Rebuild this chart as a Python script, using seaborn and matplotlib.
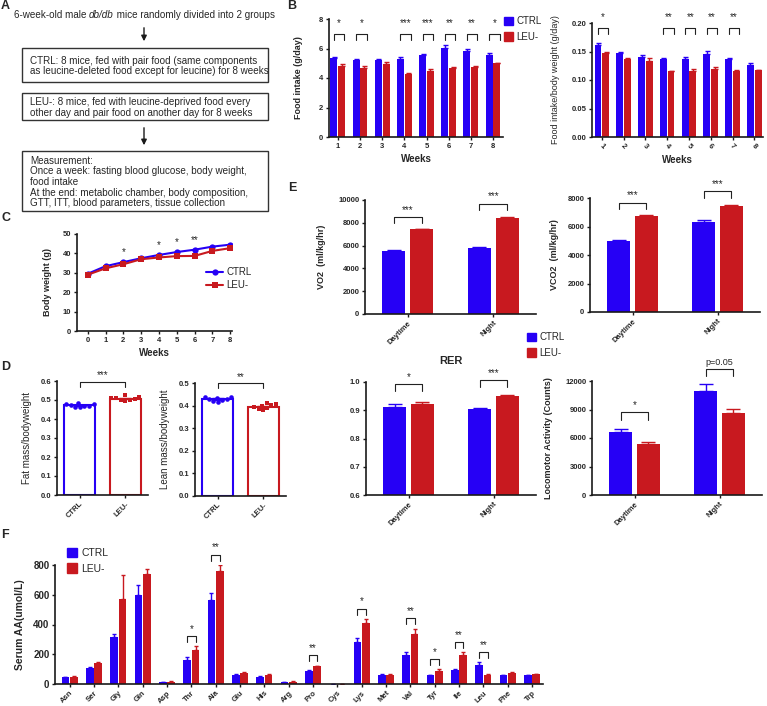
import numpy as np
import pandas as pd
import matplotlib
matplotlib.use('Agg')
import matplotlib.pyplot as plt
import matplotlib.ticker as mtick
from matplotlib.patches import Rectangle, Patch
import seaborn as sns

# cores e grupos
azul = '#2600F5'
vermelho = '#C8191F'
grupos = ['CTRL', 'LEU-']
paleta = {'CTRL': azul, 'LEU-': vermelho}

# B - ingestao alimentar
semanas = ['1', '2', '3', '4', '5', '6', '7', '8']
ingestao_ctrl = [5.35, 5.2, 5.22, 5.3, 5.55, 6.05, 5.8, 5.55]
ingestao_leu = [4.8, 4.7, 4.95, 4.3, 4.5, 4.65, 4.75, 5.0]
ingestao_ctrl_sem = [0.08, 0.06, 0.1, 0.15, 0.06, 0.2, 0.15, 0.15]
ingestao_leu_sem = [0.15, 0.1, 0.15, 0.05, 0.1, 0.12, 0.06, 0.05]
ingestao_sig = ['*', '*', '', '***', '***', '**', '**', '*']

razao_ctrl = [0.162, 0.148, 0.140, 0.136, 0.137, 0.146, 0.136, 0.126]
razao_leu = [0.147, 0.136, 0.134, 0.115, 0.116, 0.120, 0.116, 0.117]
razao_ctrl_sem = [0.003, 0.002, 0.003, 0.003, 0.003, 0.005, 0.003, 0.004]
razao_leu_sem = [0.003, 0.003, 0.005, 0.001, 0.003, 0.003, 0.001, 0.001]
razao_sig = ['*', '', '', '**', '**', '**', '**', '']

# C - peso corporal
semanas_peso = [0, 1, 2, 3, 4, 5, 6, 7, 8]
peso_ctrl = [29.5, 33.4, 35.5, 37.5, 39.2, 40.7, 41.9, 43.5, 44.5]
peso_leu = [29.0, 32.3, 34.4, 37.0, 37.9, 38.6, 38.7, 41.3, 42.7]
peso_sig = ['', '', '*', '', '*', '*', '**', '', '']

# D - composicao corporal (8 animais por grupo)
gordura_ctrl = [0.462, 0.470, 0.478, 0.485, 0.468, 0.475, 0.480, 0.465]
gordura_leu = [0.495, 0.500, 0.510, 0.525, 0.505, 0.515, 0.498, 0.508]
magra_ctrl = [0.415, 0.425, 0.440, 0.430, 0.438, 0.420, 0.428, 0.435]
magra_leu = [0.380, 0.395, 0.405, 0.400, 0.410, 0.390, 0.385, 0.402]

# E - camara metabolica
periodos = ['Daytime', 'Night']
vo2_ctrl = [5500, 5800]
vo2_leu = [7450, 8450]
vo2_ctrl_sem = [150, 120]
vo2_leu_sem = [50, 60]
vco2_ctrl = [4950, 6300]
vco2_leu = [6750, 7450]
vco2_ctrl_sem = [120, 150]
vco2_leu_sem = [60, 50]
rer_ctrl = [0.912, 0.904]
rer_leu = [0.921, 0.949]
rer_ctrl_sem = [0.010, 0.005]
rer_leu_sem = [0.009, 0.004]
loco_ctrl = [6600, 10900]
loco_leu = [5350, 8600]
loco_ctrl_sem = [300, 800]
loco_leu_sem = [200, 500]
vo2_sig = ['***', '***']
vco2_sig = ['***', '***']
rer_sig = ['*', '***']
loco_sig = ['*', 'p=0.05']

# F - aminoacidos sericos
aminoacidos = ['Asn', 'Ser', 'Gly', 'Gln', 'Asp', 'Thr', 'Ala', 'Glu', 'His', 'Arg',
               'Pro', 'Cys', 'Lys', 'Met', 'Val', 'Tyr', 'Ile', 'Leu', 'Phe', 'Trp']
aa_ctrl = [45, 105, 315, 600, 11, 161, 563, 63, 49, 13, 85, 0, 281, 58, 197, 58, 92, 127, 60, 58]
aa_leu = [50, 138, 572, 740, 15, 228, 762, 76, 62, 15, 118, 0, 407, 58, 335, 89, 192, 60, 74, 65]
aa_ctrl_sem = [3, 8, 22, 65, 2, 18, 52, 5, 3, 2, 8, 0, 28, 12, 15, 4, 10, 18, 3, 3]
aa_leu_sem = [3, 12, 160, 32, 2, 25, 38, 4, 3, 2, 6, 0, 30, 6, 37, 10, 22, 4, 8, 5]
aa_sig = ['', '', '', '', '', '*', '**', '', '', '', '**', '', '*', '', '**', '*', '**', '**', '', '']

sns.set_theme(style='ticks')
plt.rcParams['font.family'] = ['Liberation Sans', 'DejaVu Sans']
plt.rcParams['font.weight'] = 'bold'

W, H = 767, 706
fig = plt.figure(figsize=(W / 100, H / 100), dpi=100)


def eixo(l, t, r, b):
    return fig.add_axes([l / W, 1 - b / H, (r - l) / W, (b - t) / H])


def estilo(ax, ylabel, xlabel='', peso='bold', fs_y=6.5, pad_y=2):
    sns.despine(ax=ax)
    for s in ['left', 'bottom']:
        ax.spines[s].set_linewidth(1.2)
        ax.spines[s].set_color('k')
    ax.tick_params(axis='both', labelsize=5.5, width=1, length=2.5, color='k', pad=1.5)
    ax.set_ylabel(ylabel, fontsize=fs_y, fontweight=peso, labelpad=pad_y)
    ax.set_xlabel(xlabel, fontsize=7, fontweight='bold', labelpad=3)
    ax.set_facecolor('none')


def barras(ax, cats, ctrl, leu, sem_c, sem_l, largura=0.7, gap=0.1, cap=1.5):
    n = len(cats)
    df = pd.DataFrame({'cat': list(cats) * 2,
                       'grupo': ['CTRL'] * n + ['LEU-'] * n,
                       'valor': list(ctrl) + list(leu)})
    sns.barplot(data=df, x='cat', y='valor', hue='grupo', order=cats, hue_order=grupos,
                palette=paleta, width=largura, gap=gap, errorbar=None, saturation=1,
                linewidth=0, legend=False, ax=ax)
    centros = []
    for cont, sems, cor in zip(ax.containers, [sem_c, sem_l], [azul, vermelho]):
        xs = np.array([b.get_x() + b.get_width() / 2 for b in cont])
        ys = np.array([b.get_height() for b in cont])
        ax.errorbar(xs, ys, yerr=[np.zeros(n), sems], fmt='none', ecolor=cor,
                    elinewidth=1, capsize=cap, capthick=1)
        centros.append(xs)
    return centros


def colchete(ax, x1, x2, y, perna, texto, dy=1.5, fs=7):
    ax.plot([x1, x1, x2, x2], [y - perna, y, y, y - perna], color='#222222', lw=0.8, clip_on=False)
    ax.annotate(texto, xy=((x1 + x2) / 2, y), xytext=(0, dy), textcoords='offset points',
                ha='center', va='bottom', fontsize=fs, fontweight='normal', annotation_clip=False)


def legenda(x, y, fs=7, lado=0.9, esp=0.6):
    fig.legend(handles=[Patch(color=azul), Patch(color=vermelho)], labels=grupos,
               loc='upper left', bbox_to_anchor=(x / W, 1 - y / H), frameon=False,
               prop={'size': fs, 'weight': 'normal'}, handlelength=lado, handleheight=lado,
               handletextpad=0.35, labelspacing=esp, borderpad=0, borderaxespad=0)


# letras dos paineis
for letra, (lx, ly) in zip('ABCDEF', [(1, 0), (287, 0), (1, 212), (1, 361), (288, 182), (1, 529)]):
    fig.text(lx / W, 1 - ly / H, letra, fontsize=9, fontweight='bold', ha='left', va='top')

# A - fluxograma
ax_a = eixo(0, 0, 290, 215)
ax_a.set_xlim(0, 290)
ax_a.set_ylim(215, 0)
ax_a.axis('off')
fs_a = 7.1
render = fig.canvas.get_renderer()
pedacos = [('6-week-old male ', 'normal'), ('db/db', 'italic'), (' mice randomly divided into 2 groups', 'normal')]
textos = [ax_a.text(0, 15, p, ha='left', va='center', fontsize=fs_a, fontweight='normal', style=st)
          for p, st in pedacos]
larguras = [t.get_window_extent(render).width for t in textos]
x_px = 144 - sum(larguras) / 2
for t, lg in zip(textos, larguras):
    t.set_x(x_px)
    x_px += lg
for y0, y1 in [(25, 44), (125, 148)]:
    ax_a.annotate('', xy=(144, y1), xytext=(144, y0),
                  arrowprops=dict(arrowstyle='-|>', color='k', lw=1, mutation_scale=8))
caixas = [
    (48, 82, ['CTRL: 8 mice, fed with pair food (same components',
              'as leucine-deleted food except for leucine) for 8 weeks']),
    (93, 120, ['LEU-: 8 mice, fed with leucine-deprived food every',
               'other day and pair food on another day for 8 weeks']),
    (151, 211, ['Measurement:',
                'Once a week: fasting blood glucose, body weight,',
                'food intake',
                'At the end: metabolic chamber, body composition,',
                'GTT, ITT, blood parameters, tissue collection']),
]
for topo, base, linhas in caixas:
    ax_a.add_patch(Rectangle((22, topo), 246, base - topo, fill=False, lw=1, ec='#333333'))
    meio = (topo + base) / 2 + 1
    for i, linha in enumerate(linhas):
        ax_a.text(30, meio + (i - (len(linhas) - 1) / 2) * 10.6, linha, ha='left', va='center',
                  fontsize=fs_a, fontweight='normal')

# B esquerda
ax_b1 = eixo(329, 19, 503, 137)
cb = barras(ax_b1, semanas, ingestao_ctrl, ingestao_leu, ingestao_ctrl_sem, ingestao_leu_sem, cap=1.8)
ax_b1.set_ylim(0, 8)
ax_b1.set_xlim(-0.4, 7.45)
ax_b1.set_yticks([0, 2, 4, 6, 8])
for i, s in enumerate(ingestao_sig):
    if s:
        colchete(ax_b1, cb[0][i], cb[1][i] + 0.12, 7.0, 0.45, s, dy=4)
estilo(ax_b1, 'Food intake (g/day)', 'Weeks', pad_y=12)
legenda(504, 16)

# B direita
ax_b2 = eixo(592, 23, 763, 137)
cb = barras(ax_b2, semanas, razao_ctrl, razao_leu, razao_ctrl_sem, razao_leu_sem, cap=1.8)
ax_b2.set_ylim(0, 0.2)
ax_b2.set_xlim(-0.45, 7.4)
ax_b2.set_yticks([0, 0.05, 0.1, 0.15, 0.2])
ax_b2.yaxis.set_major_formatter(mtick.FormatStrFormatter('%.2f'))
for i, s in enumerate(razao_sig):
    if s:
        colchete(ax_b2, cb[0][i], cb[1][i] + 0.12, 0.191, 0.01, s, dy=4)
estilo(ax_b2, 'Food intake/body weight (g/day)', 'Weeks', peso='normal', pad_y=8)
ax_b2.tick_params(axis='x', labelrotation=-45)

# C - peso corporal
ax_c = eixo(77, 234, 232, 331)
df_peso = pd.DataFrame({'semana': semanas_peso * 2,
                        'grupo': ['CTRL'] * 9 + ['LEU-'] * 9,
                        'peso': peso_ctrl + peso_leu})
sns.lineplot(data=df_peso, x='semana', y='peso', hue='grupo', style='grupo',
             markers={'CTRL': 'o', 'LEU-': 's'}, dashes=False, palette=paleta,
             markersize=4.5, markeredgewidth=0, linewidth=1.5, ax=ax_c)
ax_c.set_ylim(0, 50)
ax_c.set_xlim(-0.6, 8.1)
ax_c.set_xticks(semanas_peso)
for x, s, yc in zip(semanas_peso, peso_sig, peso_ctrl):
    if s:
        ax_c.text(x, yc + 2.5, s, ha='center', va='bottom', fontsize=7, fontweight='normal')
estilo(ax_c, 'Body weight (g)', 'Weeks', pad_y=8)
sns.move_legend(ax_c, 'upper left', bbox_to_anchor=(0.8, 0.71), frameon=False, title=None,
                prop={'size': 7, 'weight': 'normal'}, handlelength=1.8, handletextpad=0.3,
                labelspacing=0.3, borderpad=0)

# D - composicao corporal
def painel_d(ax, v_ctrl, v_leu, ylim, ylabel, sig, yb):
    df = pd.DataFrame({'grupo': ['CTRL'] * len(v_ctrl) + ['LEU-'] * len(v_leu),
                       'valor': v_ctrl + v_leu})
    sns.barplot(data=df, x='grupo', y='valor', hue='grupo', order=grupos, palette=paleta,
                fill=False, width=0.68, errorbar=None, linewidth=1.5, legend=False, ax=ax)
    for g, mk in zip(grupos, ['o', 's']):
        sns.swarmplot(data=df[df['grupo'] == g], x='grupo', y='valor', order=grupos,
                      color=paleta[g], marker=mk, size=3.3, linewidth=0, ax=ax)
    for i, v in enumerate([v_ctrl, v_leu]):
        m = np.mean(v)
        se = np.std(v, ddof=1) / np.sqrt(len(v))
        ax.errorbar([i], [m], yerr=[[se], [se]], fmt='none', ecolor=paleta[grupos[i]],
                    elinewidth=1, capsize=4, capthick=1)
    ax.set_ylim(0, ylim)
    ax.set_xlim(-0.5, 1.5)
    colchete(ax, 0, 1, yb, ylim * 0.045, sig, dy=1)
    estilo(ax, ylabel, peso='normal', fs_y=7, pad_y=6)
    ax.tick_params(axis='x', labelrotation=45)
    for lab in ax.get_xticklabels():
        lab.set_ha('right')
        lab.set_rotation_mode('anchor')
    ax.yaxis.set_major_formatter(mtick.FormatStrFormatter('%.1f'))


painel_d(eixo(57, 381, 148, 495), gordura_ctrl, gordura_leu, 0.6, 'Fat mass/bodyweight', '***', 0.595)
painel_d(eixo(195, 383, 286, 496), magra_ctrl, magra_leu, 0.5, 'Lean mass/bodyweight', '**', 0.50)

# E - camara metabolica
def painel_e(ax, ctrl, leu, sc, sl, sig, ylim, ticks, ylabel, pad, perna, pad_y=7, base=0):
    cb = barras(ax, periodos, ctrl, leu, sc, sl, largura=0.65, gap=0.17, cap=5)
    ax.set_ylim(base, ylim)
    ax.set_xlim(-0.5, 1.5)
    ax.set_yticks(ticks)
    for i, s in enumerate(sig):
        y = max(ctrl[i] + sc[i], leu[i] + sl[i]) + pad[i]
        colchete(ax, cb[0][i], cb[1][i], y, perna, s, dy=1.5, fs=7 if s.startswith('*') else 6.5)
    estilo(ax, ylabel, pad_y=pad_y)
    ax.tick_params(axis='x', labelrotation=45)
    for lab in ax.get_xticklabels():
        lab.set_ha('right')
        lab.set_rotation_mode('anchor')


painel_e(eixo(365, 200, 536, 314), vo2_ctrl, vo2_leu, vo2_ctrl_sem, vo2_leu_sem, vo2_sig,
         10000, [0, 2000, 4000, 6000, 8000, 10000], 'VO2  (ml/kg/hr)', [1030, 1180], 570, pad_y=9)
painel_e(eixo(590, 198, 760, 312), vco2_ctrl, vco2_leu, vco2_ctrl_sem, vco2_leu_sem, vco2_sig,
         8000, [0, 2000, 4000, 6000, 8000], 'VCO2  (ml/kg/hr)', [870, 970], 480, pad_y=6)
ax_rer = eixo(366, 382, 536, 495)
painel_e(ax_rer, rer_ctrl, rer_leu, rer_ctrl_sem, rer_leu_sem, rer_sig,
         1.0, [0.6, 0.7, 0.8, 0.9, 1.0], '', [0.062, 0.053], 0.024, base=0.6)
ax_rer.yaxis.set_major_formatter(mtick.FormatStrFormatter('%.1f'))
ax_rer.set_title('RER', fontsize=8, fontweight='bold', pad=13)
painel_e(eixo(592, 381, 762, 495), loco_ctrl, loco_leu, loco_ctrl_sem, loco_leu_sem, loco_sig,
         12000, [0, 3000, 6000, 9000, 12000], 'Locomotor Activity (Counts)', [1800, 1580], 800, pad_y=9)
legenda(527, 332)

# F - aminoacidos
ax_f = eixo(55, 565, 543, 684)
cb = barras(ax_f, aminoacidos, aa_ctrl, aa_leu, aa_ctrl_sem, aa_leu_sem, largura=0.7, gap=0.1, cap=1.3)
ax_f.set_ylim(0, 800)
ax_f.set_xlim(-0.6, 19.45)
ax_f.set_yticks([0, 200, 400, 600, 800])
for i, s in enumerate(aa_sig):
    if s:
        y = max(aa_ctrl[i] + aa_ctrl_sem[i], aa_leu[i] + aa_leu_sem[i]) + 70
        colchete(ax_f, cb[0][i], cb[1][i], y, 40, s, dy=1.5)
estilo(ax_f, 'Serum AA(umol/L)', fs_y=7.5, pad_y=6)
ax_f.tick_params(axis='y', labelsize=7)
ax_f.tick_params(axis='x', labelsize=5.5, labelrotation=45)
for lab in ax_f.get_xticklabels():
    lab.set_ha('right')
    lab.set_rotation_mode('anchor')
legenda(67, 548, fs=7.5, lado=1.0, esp=0.5)

fig.savefig('out.png', dpi=100)
